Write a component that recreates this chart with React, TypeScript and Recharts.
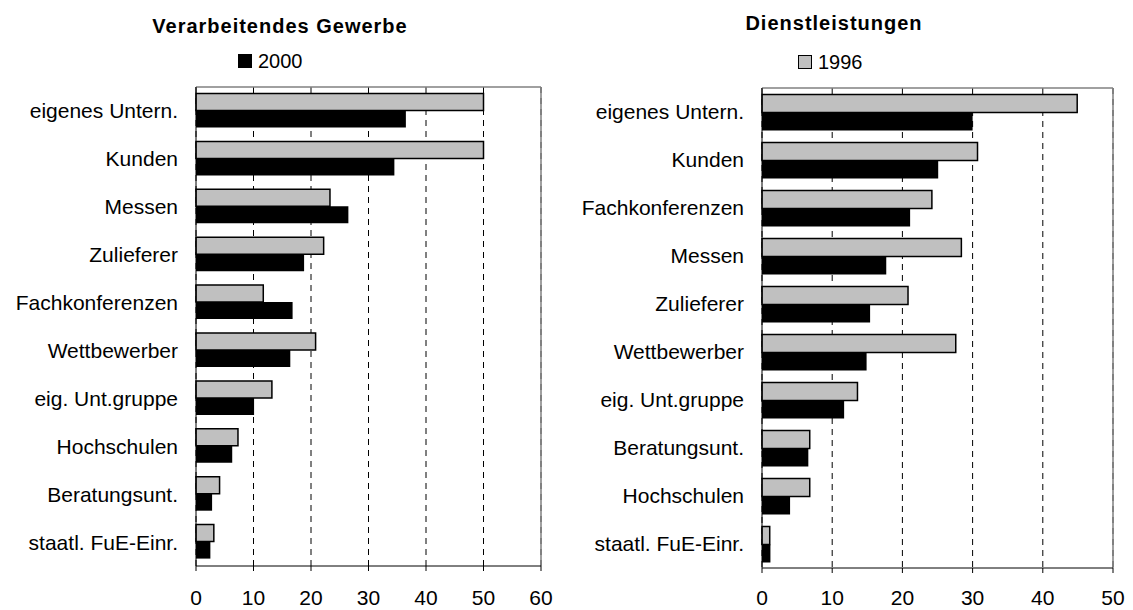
import React from "react";
import { BarChart, Bar, XAxis, YAxis, CartesianGrid, ReferenceLine } from "recharts";

// Verarbeitendes Gewerbe
const gewerbeKategorien = [
  "eigenes Untern.",
  "Kunden",
  "Messen",
  "Zulieferer",
  "Fachkonferenzen",
  "Wettbewerber",
  "eig. Unt.gruppe",
  "Hochschulen",
  "Beratungsunt.",
  "staatl. FuE-Einr.",
];
const gewerbe1996 = [50, 50, 23.3, 22.2, 11.7, 20.8, 13.2, 7.3, 4.1, 3.1];
const gewerbe2000 = [36.5, 34.5, 26.5, 18.8, 16.8, 16.4, 10.1, 6.3, 2.8, 2.5];
const gewerbeTicks = [0, 10, 20, 30, 40, 50, 60];

// Dienstleistungen
const dienstKategorien = [
  "eigenes Untern.",
  "Kunden",
  "Fachkonferenzen",
  "Messen",
  "Zulieferer",
  "Wettbewerber",
  "eig. Unt.gruppe",
  "Beratungsunt.",
  "Hochschulen",
  "staatl. FuE-Einr.",
];
const dienst1996 = [44.9, 30.7, 24.2, 28.4, 20.8, 27.6, 13.6, 6.8, 6.8, 1.1];
const dienst2000 = [30.0, 25.1, 21.1, 17.7, 15.4, 14.9, 11.7, 6.6, 4.0, 1.2];
const dienstTicks = [0, 10, 20, 30, 40, 50];

const GRAY = "#c0c0c0";
const BORDER = "#808080";
const CHART_H = 610;
const X_AXIS_H = 30;

type PanelProps = {
  left: number;
  width: number;
  title: string;
  titleTop: number;
  titleCenter: number;
  legendYear: string;
  legendLeft: number;
  legendTop: number;
  categories: string[];
  v1996: number[];
  v2000: number[];
  ticks: number[];
  margin: { top: number; right: number; bottom: number; left: number };
  yWidth: number;
  tickMargin: number;
};

function Panel(p: PanelProps) {
  const data = p.categories.map((name, i) => ({
    name,
    y1996: p.v1996[i],
    y2000: p.v2000[i],
  }));
  const max = p.ticks[p.ticks.length - 1];
  const legendFill = p.legendYear === "1996" ? GRAY : "#000";

  return (
    <div style={{ position: "absolute", left: p.left, top: 0, width: p.width, height: CHART_H }}>
      <div
        style={{
          position: "absolute",
          top: p.titleTop,
          left: p.titleCenter - 200,
          width: 400,
          textAlign: "center",
          fontWeight: "bold",
          fontSize: 20,
          lineHeight: "20px",
          letterSpacing: 1,
        }}
      >
        {p.title}
      </div>
      <div
        style={{
          position: "absolute",
          top: p.legendTop,
          left: p.legendLeft,
          display: "flex",
          alignItems: "center",
          fontSize: 20,
          lineHeight: "20px",
        }}
      >
        <span
          style={{
            display: "inline-block",
            width: 14,
            height: 14,
            boxSizing: "border-box",
            background: legendFill,
            border: "1.5px solid #000",
            marginRight: 6,
          }}
        />
        <span>{p.legendYear}</span>
      </div>
      <div style={{ position: "absolute", left: 0, top: 0 }}>
        <BarChart
          width={p.width}
          height={CHART_H}
          data={data}
          layout="vertical"
          margin={p.margin}
          barCategoryGap={6.5}
          barGap={0}
        >
          <CartesianGrid
            horizontal={false}
            stroke="#000"
            strokeDasharray="6 5"
          />
          <XAxis
            type="number"
            domain={[0, max]}
            ticks={p.ticks}
            interval={0}
            height={X_AXIS_H}
            axisLine={{ stroke: "#000" }}
            tickLine={{ stroke: "#000" }}
            tickSize={5}
            tickMargin={p.tickMargin}
            tick={{ fontSize: 21, fill: "#000" }}
          />
          <YAxis
            type="category"
            dataKey="name"
            width={p.yWidth}
            axisLine={{ stroke: "#000" }}
            tickLine={false}
            tickSize={0}
            tickMargin={18}
            interval={0}
            tick={{ fontSize: 21, fill: "#000" }}
          />
          {/* plot frame: top and right edge */}
          <ReferenceLine y={p.categories[0]} position="start" stroke={BORDER} strokeWidth={1.5} ifOverflow="extendDomain" />
          <ReferenceLine x={max} stroke={BORDER} strokeWidth={1.5} ifOverflow="extendDomain" />
          <Bar
            dataKey="y1996"
            name="1996"
            fill={GRAY}
            stroke="#000"
            strokeWidth={1.5}
            isAnimationActive={false}
          />
          <Bar dataKey="y2000" name="2000" fill="#000" isAnimationActive={false} />
        </BarChart>
      </div>
    </div>
  );
}

export default function App() {
  return (
    <div
      style={{
        position: "absolute",
        left: 0,
        top: 0,
        width: 1133,
        height: 610,
        background: "#fff",
        fontFamily: "'Liberation Sans', Arial, sans-serif",
        color: "#000",
      }}
    >
      <Panel
        left={0}
        width={560}
        title="Verarbeitendes Gewerbe"
        titleTop={16}
        titleCenter={280}
        legendYear="2000"
        legendLeft={238}
        legendTop={51}
        categories={gewerbeKategorien}
        v1996={gewerbe1996}
        v2000={gewerbe2000}
        ticks={gewerbeTicks}
        margin={{ top: 87, right: 19, bottom: 14, left: 0 }}
        yWidth={196}
        tickMargin={19}
      />
      <Panel
        left={560}
        width={573}
        title="Dienstleistungen"
        titleTop={13}
        titleCenter={274}
        legendYear="1996"
        legendLeft={238}
        legendTop={52}
        categories={dienstKategorien}
        v1996={dienst1996}
        v2000={dienst2000}
        ticks={dienstTicks}
        margin={{ top: 88, right: 20, bottom: 12, left: 0 }}
        yWidth={202}
        tickMargin={17}
      />
    </div>
  );
}
